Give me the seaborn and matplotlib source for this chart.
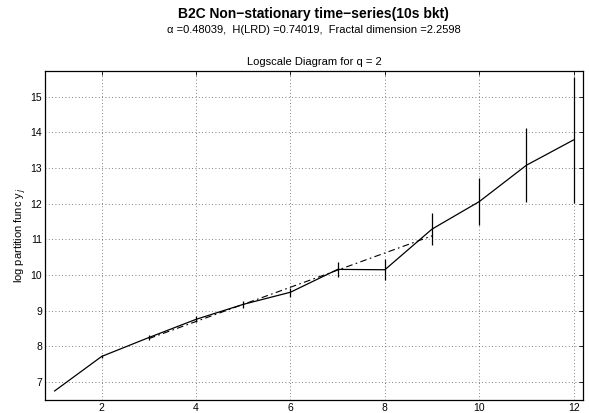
import matplotlib
matplotlib.use("Agg")
import matplotlib.pyplot as plt
import seaborn as sns
import numpy as np
import pandas as pd

# data
octaves = [1, 2, 3, 4, 5, 6, 7, 8, 9, 10, 11, 12]
log_partition = [6.75, 7.72, 8.25, 8.76, 9.18, 9.52, 10.16, 10.15, 11.29, 12.06, 13.08, 13.79]
err_half = [0.01, 0.03, 0.06, 0.08, 0.09, 0.13, 0.22, 0.30, 0.46, 0.66, 1.03, 1.77]
fit_x = [3, 9]
fit_y = [8.22, 11.10]
x_ticks = [2, 4, 6, 8, 10, 12]
y_ticks = [7, 8, 9, 10, 11, 12, 13, 14, 15]

sns.set_theme(style="white")
plt.rcParams["font.family"] = ["Liberation Sans", "DejaVu Sans"]
plt.rcParams["xtick.direction"] = "in"
plt.rcParams["ytick.direction"] = "in"
plt.rcParams["text.color"] = "black"
plt.rcParams["axes.labelcolor"] = "black"
plt.rcParams["xtick.color"] = "black"
plt.rcParams["ytick.color"] = "black"

fig = plt.figure(figsize=(5.89, 4.13), dpi=100)
ax = fig.add_axes([0.0764, 0.0315, 0.9136, 0.7966])

df = pd.DataFrame({"j": octaves, "y": log_partition})
sns.lineplot(data=df, x="j", y="y", ax=ax, color="black", linewidth=0.9)
ax.vlines(octaves, np.array(log_partition) - np.array(err_half),
          np.array(log_partition) + np.array(err_half), color="black", linewidth=0.9)
ax.plot(fit_x, fit_y, color="black", linewidth=0.8, linestyle=(0, (6, 3, 1.5, 3)))

ax.set_xlim(0.8, 12.2)
ax.set_ylim(6.5, 15.72)
ax.set_xticks(x_ticks)
ax.set_yticks(y_ticks)
ax.tick_params(axis="both", labelsize=7.5, length=3, width=0.6, top=True, right=True, pad=2,
               colors="black")
ax.grid(True, linestyle=(0, (1, 3)), color="#555555", linewidth=0.6)
for s in ax.spines.values():
    s.set_color("black")
    s.set_linewidth(0.9)
ax.set_xlabel("")
ax.set_ylabel("log partition func y$_{\\,j}$", fontsize=8, labelpad=1, color="black")
ax.set_title("Logscale Diagram for q = 2", fontsize=8, pad=4, color="black")

fig.text(0.533, 0.966, "B2C Non\u2212stationary time\u2212series(10s bkt)", ha="center", va="center",
         fontsize=10, fontweight="bold", color="black")
fig.text(0.533, 0.928, "\u03b1 =0.48039,  H(LRD) =0.74019,  Fractal dimension =2.2598", ha="center",
         va="center", fontsize=8, color="black")

fig.savefig("out.png", dpi=100)
